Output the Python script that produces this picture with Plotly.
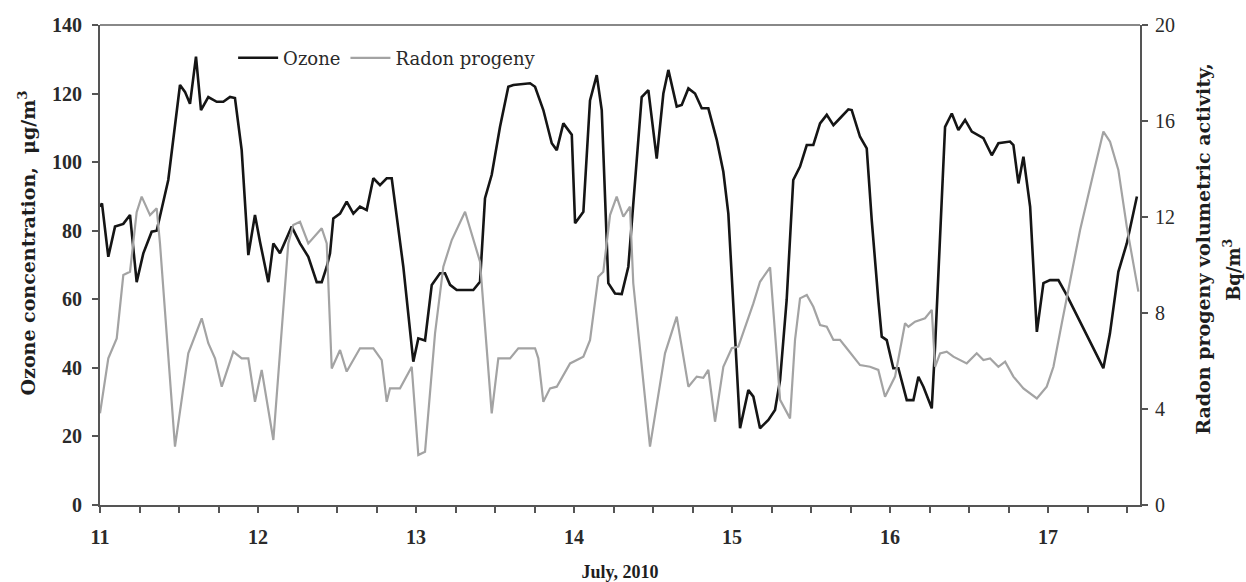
import plotly.graph_objects as go

# Ozone: hours since 11 July 00:00, concentration (ug/m3)
ozone_hours = [0, 0.3, 1.26, 2.28, 3.54, 4.56, 5.57, 6.58, 7.85, 8.61, 10.37, 11.39, 12.15, 12.91, 13.67,
               14.58, 15.34, 16.45, 17.73, 18.73, 19.75, 20.5, 21.52, 22.53, 23.54, 24.3, 25.57, 26.33,
               27.34, 29.12, 30.38, 31.64, 32.92, 33.68, 34.44, 34.94, 35.44, 36.46, 37.47, 38.48, 39.49,
               40.51, 41.52, 42.53, 43.55, 44.31, 46.07, 47.59, 48.35, 49.37, 50.39, 51.65, 52.4, 53.17,
               54.18, 56.7, 57.72, 58.48, 59.5, 60.76, 62.02, 62.78, 65.32, 66.08, 67.34, 68.62, 69.38,
               70.38, 71.66, 72.16, 73.42, 74.43, 75.45, 76.21, 77.21, 78.23, 79.25, 80.25, 82.28, 83.29,
               84.56, 85.57, 86.33, 87.6, 88.36, 89.37, 90.38, 91.4, 92.4, 93.68, 94.68, 95.44, 96.2,
               97.22, 98.48, 99.24, 100.25, 101.52, 102.53, 103.3, 104.3, 105.07, 105.3, 106.33, 107.35,
               108.35, 109.37, 110.39, 111.4, 112.4, 113.67, 114.18, 115.44, 116.46, 117.22, 118.22,
               118.74, 119.5, 120.5, 121.27, 122.54, 123.55, 124.31, 125.07, 126.34, 126.84, 127.86,
               128.36, 129.38, 130.38, 131.4, 132.42, 134.18, 135.45, 136.46, 138.23, 138.74, 139.5,
               140.26, 141.28, 142.3, 143.3, 144.3, 145.57, 146.84, 152.4, 153.4, 154.68, 155.96, 157.5]
ozone_values = [87, 88, 72.4, 81.2, 82, 84.6, 65, 73.4, 79.7, 80, 94.8, 110, 122.5, 120.5, 117,
                130.8, 115.2, 119, 117.6, 117.6, 119, 118.7, 103.5, 72.9, 84.6, 76.8, 65, 76.3,
                73.4, 81.2, 76.3, 72.4, 65, 65, 69.5, 73.4, 83.6, 85, 88.5, 85, 87,
                86, 95.3, 93.3, 95.3, 95.3, 69.5, 41.8, 48.6, 48, 64.2, 67.6, 67.6, 64.2,
                62.7, 62.7, 65.1, 89.5, 96.3, 110.3, 122, 122.5, 123, 122, 115.2, 105.5, 103.5,
                111.3, 108, 82.2, 85.5, 118, 125.4, 115.2, 64.7, 61.7, 61.5, 69.5, 119, 121,
                101, 120, 126.9, 116.2, 116.7, 121.5, 120, 115.7, 115.7, 106.5, 97.2, 85, 59.8,
                22.4, 33.5, 31.6, 22.4, 24.8, 27.7, 36.5, 59.8, 85, 94.8, 98.7, 105,
                105, 111.3, 113.8, 110.8, 112.8, 115.4, 115.2, 107.4, 104, 83.1, 59.8,
                49.1, 48.1, 39.9, 39.9, 30.6, 30.6, 37.4, 34.5, 28.2, 46.2, 89,
                110.3, 114.2, 109.4, 112.3, 108.9, 107, 102, 105.5, 106, 105, 93.8,
                101.6, 87, 50.5, 64.7, 65.6, 65.6, 61.2, 39.9, 50, 68, 76.3, 90]

# Radon progeny: hours since 11 July 00:00, activity (Bq/m3)
radon_hours = [0, 1.26, 2.54, 3.54, 4.56, 5.57, 6.33, 7.6, 8.61, 9.11, 11.39, 13.41, 15.45, 16.45,
               17.47, 18.49, 20.25, 21.52, 22.53, 23.54, 24.56, 26.33, 28.6, 29.35, 30.38, 31.64,
               33.68, 34.44, 35.2, 36.46, 37.47, 39.49, 41.52, 42.79, 43.55, 44.05, 45.57, 47.35,
               48.35, 49.37, 50.89, 52.15, 53.43, 55.45, 57.72, 59.5, 60.5, 62.28, 63.54, 66.08,
               66.58, 67.34, 68.36, 69.38, 71.4, 73.42, 74.43, 75.69, 76.45, 77.47, 78.48, 79.49,
               80.5, 81.0, 83.54, 85.82, 87.6, 89.37, 90.64, 91.64, 92.4, 93.42, 94.68, 95.96,
               96.96, 99.24, 100.25, 101.78, 103.3, 104.81, 105.57, 106.33, 107.35, 108.35, 109.37,
               110.39, 111.4, 112.4, 113.42, 115.44, 116.96, 118.22, 119.24, 120.76, 122.28, 122.79,
               123.8, 125.32, 126.34, 126.84, 127.6, 128.61, 129.62, 131.65, 133.17, 134.18, 135.2,
               136.46, 137.48, 138.74, 140.26, 142.3, 143.8, 144.82, 146.09, 147.61, 148.87, 150.89,
               152.41, 153.42, 154.68, 155.96, 157.72]
radon_values = [3.82, 6.11, 6.94, 9.58, 9.72, 12.2, 12.85, 12.08, 12.36, 10.9, 2.43, 6.32, 7.78, 6.74,
                6.11, 4.93, 6.39, 6.11, 6.11, 4.3, 5.63, 2.71, 10.9, 11.67, 11.8, 10.9,
                11.53, 10.9, 5.69, 6.46, 5.56, 6.53, 6.53, 6.04, 4.3, 4.86, 4.86, 5.76,
                2.08, 2.22, 7.15, 9.93, 11.04, 12.22, 10.14, 3.82, 6.11, 6.11, 6.53, 6.53,
                6.11, 4.3, 4.86, 4.93, 5.9, 6.18, 6.87, 9.51, 9.72, 12.08, 12.85, 12.01,
                12.43, 9.24, 2.43, 6.32, 7.85, 4.93, 5.35, 5.3, 5.63, 3.47, 5.76, 6.53,
                6.6, 8.4, 9.3, 9.9, 4.38, 3.61, 6.88, 8.61, 8.75, 8.26, 7.5,
                7.43, 6.88, 6.88, 6.53, 5.83, 5.76, 5.63, 4.51, 5.35, 7.57, 7.43,
                7.64, 7.78, 8.13, 5.76, 6.32, 6.39, 6.18, 5.9, 6.32, 6.04, 6.11,
                5.76, 5.97, 5.35, 4.86, 4.44, 4.93, 5.76, 7.57, 9.79, 11.46, 13.82,
                15.56, 15.14, 13.96, 11.6, 8.89]

start_day = 11
ozone_ticks = [0, 20, 40, 60, 80, 100, 120, 140]
radon_ticks = [0, 4, 8, 12, 16, 20]

ozone_x = [start_day + h / 24 for h in ozone_hours]
radon_x = [start_day + h / 24 for h in radon_hours]

serif = "Liberation Serif, Times New Roman, serif"
wide_serif = "DejaVu Serif, serif"
axis_col = "#555555"
text_col = "#2a2a2a"

fig = go.Figure()
fig.add_trace(go.Scatter(x=ozone_x, y=ozone_values, mode="lines", name="Ozone",
                         line=dict(color="#151515", width=2.6)))
fig.add_trace(go.Scatter(x=radon_x, y=radon_values, mode="lines", name="Radon progeny",
                         line=dict(color="#a3a3a3", width=2.2), yaxis="y2"))

tick_vals = [start_day + q / 4 for q in range(0, 27)]
tick_text = [str(int(round(v))) if abs(v - round(v)) < 1e-9 else "" for v in tick_vals]

fig.update_layout(
    width=1246, height=582,
    margin=dict(l=100, r=106, t=25, b=77),
    paper_bgcolor="white", plot_bgcolor="white",
    font=dict(family=serif, color=text_col, size=18),
    showlegend=True,
    legend=dict(orientation="h", x=0.128, y=0.931, xanchor="left", yanchor="middle",
                bgcolor="rgba(0,0,0,0)", font=dict(family=wide_serif, size=18, color=text_col),
                itemwidth=40, tracegroupgap=0),
    xaxis=dict(range=[11, 17.582], tickvals=tick_vals, ticktext=tick_text,
               ticks="outside", ticklen=6, tickwidth=2, tickcolor=axis_col,
               showline=True, linecolor=axis_col, linewidth=2, mirror=False,
               showgrid=False, zeroline=False, automargin=False, ticklabelstandoff=7,
               tickfont=dict(family=serif, size=20, color=text_col, weight="bold"),
               title=dict(text="<b>July, 2010</b>", font=dict(family=serif, size=18, color="#1e1e1e"),
                          standoff=20)),
    yaxis=dict(range=[0, 140], tickvals=ozone_ticks, ticks="outside", ticklen=6, tickwidth=2,
               tickcolor=axis_col, showline=True, linecolor=axis_col, linewidth=2,
               showgrid=False, zeroline=False, automargin=False, ticklabelstandoff=6,
               tickfont=dict(family=serif, size=20, color=text_col, weight="bold")),
    yaxis2=dict(range=[0, 20], tickvals=radon_ticks, overlaying="y", side="right",
                ticks="outside", ticklen=6, tickwidth=2, tickcolor=axis_col,
                showline=True, linecolor=axis_col, linewidth=2,
                showgrid=False, zeroline=False, automargin=False, ticklabelstandoff=3,
                tickfont=dict(family=serif, size=20, color=text_col)),
)

# y-axis titles placed as in the reference (shifted above the axis middle)
fig.add_annotation(text="<b>Ozone concentration,  μg/m<sup>3</sup></b>", textangle=-90,
                   xref="paper", yref="paper", x=-0.0702, y=0.547,
                   xanchor="center", yanchor="middle", showarrow=False,
                   font=dict(family=wide_serif, size=19, color="#1e1e1e"))
fig.add_annotation(text="<b>Radon progeny volumetric activity,</b>", textangle=-90,
                   xref="paper", yref="paper", x=1.0606, y=0.534,
                   xanchor="center", yanchor="middle", showarrow=False,
                   font=dict(family=wide_serif, size=19, color="#1e1e1e"))
fig.add_annotation(text="<b>Bq/m<sup>3</sup></b>", textangle=-90,
                   xref="paper", yref="paper", x=1.0885, y=0.490,
                   xanchor="center", yanchor="middle", showarrow=False,
                   font=dict(family=wide_serif, size=18, color="#1e1e1e"))

# top border of plot frame
fig.add_shape(type="line", xref="paper", yref="paper", x0=0, x1=1, y0=1, y1=1,
              line=dict(color="#888888", width=2))

fig.write_html("out.html")
